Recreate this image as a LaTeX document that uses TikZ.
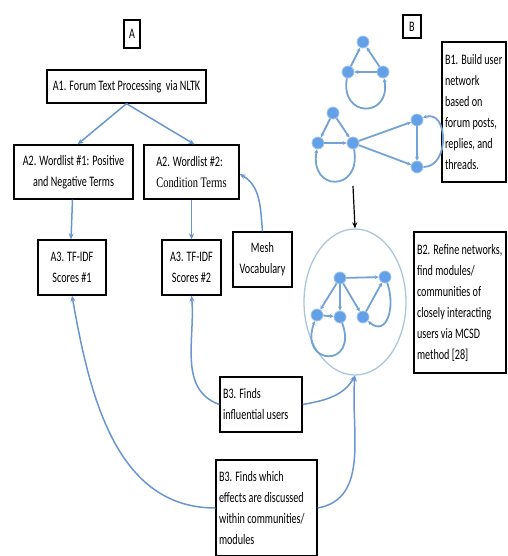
\documentclass[tikz,border=0pt]{standalone}
\usepackage{fontspec}
\setmainfont{Carlito}[FakeStretch=0.7]
\newfontfamily\condserif{Liberation Serif}[FakeStretch=0.72]
\usepackage{tikz}
\usetikzlibrary{shapes,arrows.meta}
\definecolor{flowblue}{RGB}{105,150,208}
\definecolor{netblue}{RGB}{100,160,230}
\definecolor{netline}{RGB}{115,162,215}
\definecolor{ringblue}{RGB}{172,196,220}
\tikzset{
  box/.style={draw, line width=1.3pt, inner sep=3pt, font=\fontsize{14.5}{21}\selectfont},
  flow/.style={draw=flowblue, line width=1.5pt, -{Stealth[length=6pt, width=5pt]}},
  net/.style={draw=netline, line width=1.8pt, -{Stealth[length=4pt, width=4pt]}},
  netdot/.style={circle, fill=netblue, draw=netblue!60!white, line width=0.8pt, inner sep=0pt, minimum size=12pt}
}
\newcommand{\flowbox}[5] {\node at (#1) (#2) [box, align=center, minimum width=#3pt, minimum height=#4pt] {#5};}
\newcommand{\notebox}[5] {\node at (#1) (#2) [box, align=flush left, text width=#3pt, minimum height=#4pt] {#5};}
\newcommand{\netnode}[2] {\node at (#1) (#2) [netdot] {};}
\newcommand{\netedge}[2] {\draw [net] (#1) -- (#2);}
\newcommand{\netarc}[5] {\draw [net] (#1) to[out=#3, in=#4, looseness=#5] (#2);}

\begin{document}
\begin{tikzpicture}[x=1pt, y=-1pt]
\useasboundingbox (0,0) rectangle (507,556);

\flowbox {132,34} {labelA} {16} {28} {A};
\flowbox {412,26.5} {labelB} {18} {23} {B};
\flowbox {126.5,86.5} {a1} {159} {33} {A1. Forum Text Processing\ \ via NLTK};
\flowbox {73.5,172} {a2one} {119} {54} {A2. Wordlist \#1: Positive\\and Negative Terms};
\node at (191.5,172) (a2two) [box, align=left, minimum width=95pt, minimum height=54pt] {A2. Wordlist \#2:\\{\condserif Condition Terms}};
\flowbox {72,267.5} {a3one} {68} {55} {A3. TF-IDF\\Scores \#1};
\flowbox {191.5,267.5} {a3two} {59} {55} {A3. TF-IDF\\Scores \#2};
\flowbox {262.5,259.5} {mesh} {59} {55} {Mesh\\Vocabulary};
\notebox {474,112} {b1} {58} {140} {B1. Build user\\network\\based on\\forum posts,\\replies, and\\threads.};
\notebox {460,302.5} {b2} {86} {141} {B2. Refine networks,\\find modules/\\communities of\\closely interacting\\users via MCSD\\method [28]};
\notebox {261,404.5} {b3users} {76} {55} {B3. Finds\\influential users};
\notebox {266.5,508} {b3effects} {95} {96} {B3. Finds which\\effects are discussed\\within communities/\\modules};

\node at (355,302) (ring) [ellipse, draw=ringblue, line width=1.3pt, minimum width=102pt, minimum height=146pt] {};

\netnode {363,42} {t1};
\netnode {348,72} {t2};
\netnode {383,72} {t3};
\netedge{t2}{t1};
\netedge{t3}{t1};
\netedge{t3}{t2};
\netarc{t2}{t3}{-100}{-80}{2.8};

\netnode {333,113} {m1};
\netnode {318,143} {m2};
\netnode {353,143} {m3};
\netnode {417,120} {m4};
\netnode {417,167} {m5};
\netedge{m1}{m2};
\netedge{m1}{m3};
\netedge{m2}{m3};
\netarc{m3}{m2}{-80}{-100}{3};
\netedge{m3}{m4};
\netedge{m3}{m5};
\netedge{m4}{m5};
\netarc{m5}{m4}{0}{20}{1.4};

\netnode {340,278} {c1};
\netnode {385,277} {c2};
\netnode {317,315} {c3};
\netnode {340,317} {c4};
\netnode {363,317} {c5};
\netedge{c1}{c2};
\netedge{c1}{c3};
\netedge{c1}{c4};
\netedge{c1}{c5};
\netedge{c3}{c4};
\netedge{c5}{c2};
\netarc{c4}{c3}{-70}{-110}{4.5};
\netarc{c2}{c5}{-70}{-40}{1.5};

\coordinate (netfoot) at (353,186);
\draw [line width=1.2pt, -{Stealth[length=6pt, width=5pt]}] (netfoot) -- (ring.north);

\draw [flow] (a1.south) -- ([xshift=4pt]a2one.north);
\draw [flow] (a1.south) -- ([xshift=3pt]a2two.north);
\draw [flow] ([xshift=-1pt]a2one.south) -- ([xshift=-1pt]a3one.north);
\draw [flow] (a2two.south) -- (a3two.north);
\draw [flow] (mesh.north) to[out=95, in=-30] ([yshift=-2pt]a2two.east);
\draw [flow] (b3users.west) to[out=160, in=-85] (a3two.south);
\draw [flow] (b3users.east) to[out=10, in=-120] (ring.south);
\draw [flow] (b3effects.west) to[out=180, in=-80] (a3one.south);
\draw [flow] (b3effects.east) to[out=10, in=-95] (ring.south);

\end{tikzpicture}
\end{document}
